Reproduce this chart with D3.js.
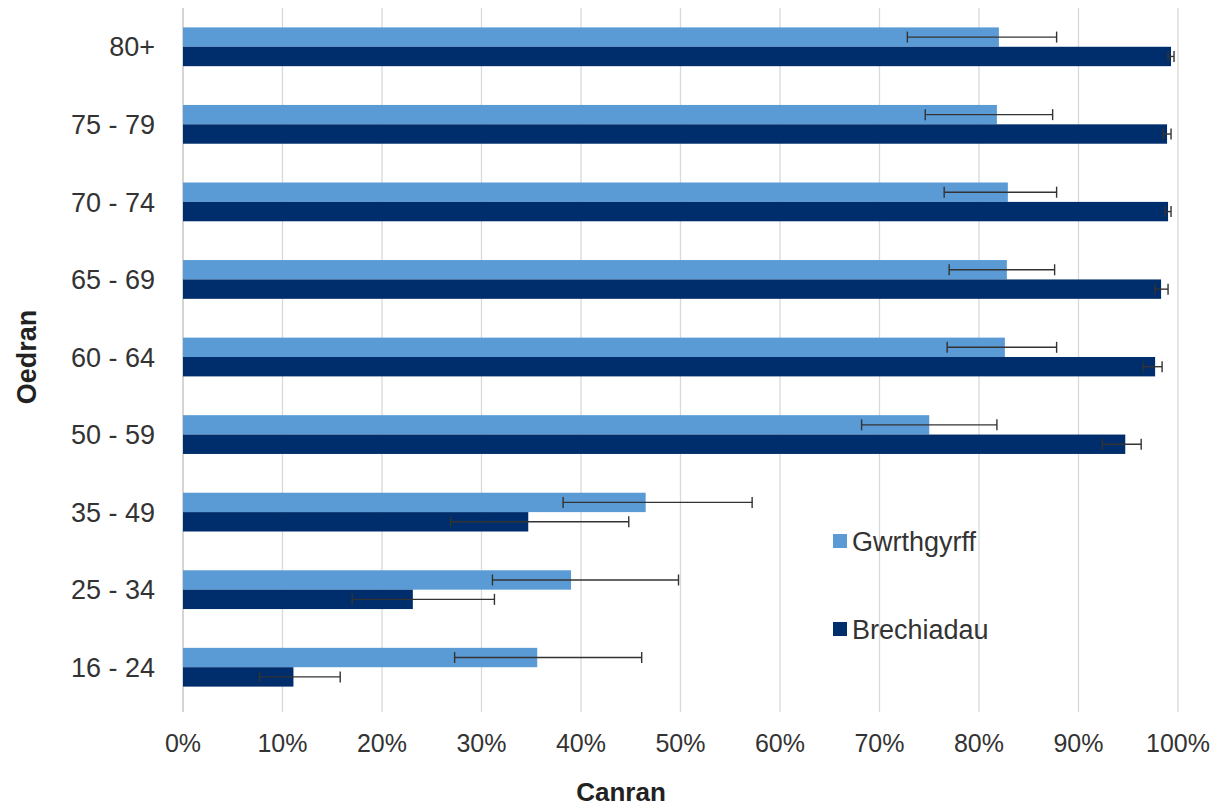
<!DOCTYPE html>
<html>
<head>
<meta charset="utf-8">
<script src="https://cdn.jsdelivr.net/npm/d3@7"></script>
<style>
  body { margin: 0; background: #fff; }
  text { font-family: "Liberation Sans", Arial, sans-serif; }
</style>
</head>
<body>
<div id="chart"></div>
<script>
// Categorías de edad (de arriba a abajo)
const oedran = ["80+", "75 - 79", "70 - 74", "65 - 69", "60 - 64", "50 - 59", "35 - 49", "25 - 34", "16 - 24"];
const cyfresi = ["Gwrthgyrff", "Brechiadau"];
const lliwiau = ["#5b9bd5", "#002d6b"];

// Valores (%)
const gwrthgyrff = [82.0, 81.8, 82.9, 82.8, 82.6, 75.0, 46.5, 39.0, 35.6];
const gwrthgyrffIsaf = [72.8, 74.6, 76.5, 77.0, 76.8, 68.2, 38.2, 31.1, 27.3];
const gwrthgyrffUchaf = [87.8, 87.4, 87.8, 87.6, 87.8, 81.8, 57.2, 49.8, 46.1];
const brechiadau = [99.3, 98.9, 99.0, 98.3, 97.7, 94.7, 34.7, 23.1, 11.1];
const brechiadauIsaf = [99.0, 98.5, 98.7, 97.7, 96.5, 92.4, 26.9, 17.0, 7.7];
const brechiadauUchaf = [99.6, 99.3, 99.3, 99.0, 98.4, 96.3, 44.8, 31.3, 15.8];

const xTicks = [0, 10, 20, 30, 40, 50, 60, 70, 80, 90, 100];

const width = 1219, height = 807;
const margin = { top: 8, right: 41, bottom: 101, left: 183 };
const innerW = width - margin.left - margin.right;
const innerH = height - margin.top - margin.bottom;

const svg = d3.select("#chart").append("svg")
  .attr("width", width).attr("height", height);

const g = svg.append("g").attr("transform", `translate(${margin.left},${margin.top})`);

const x = d3.scaleLinear().domain([0, 100]).range([0, innerW]);
const y = d3.scaleBand().domain(oedran).range([0, innerH]).paddingInner(0.5).paddingOuter(0.25);
const ySub = d3.scaleBand().domain(cyfresi).range([0, y.bandwidth()]);

// Líneas de la grilla
g.append("g").selectAll("line").data(xTicks).join("line")
  .attr("x1", d => x(d)).attr("x2", d => x(d))
  .attr("y1", 0).attr("y2", innerH + 6)
  .attr("stroke", d => d === 0 ? "#bfbfbf" : "#d9d9d9").attr("stroke-width", 1.3);

// Tabla para las barras
const datos = oedran.map((o, i) => ({
  oedran: o,
  gwerthoedd: [
    { cyfres: cyfresi[0], v: gwrthgyrff[i], isaf: gwrthgyrffIsaf[i], uchaf: gwrthgyrffUchaf[i] },
    { cyfres: cyfresi[1], v: brechiadau[i], isaf: brechiadauIsaf[i], uchaf: brechiadauUchaf[i] }
  ]
}));

const grwpiau = g.append("g").selectAll("g").data(datos).join("g")
  .attr("transform", d => `translate(0,${y(d.oedran)})`);

grwpiau.selectAll("rect").data(d => d.gwerthoedd).join("rect")
  .attr("x", 0)
  .attr("y", d => ySub(d.cyfres))
  .attr("width", d => x(d.v))
  .attr("height", ySub.bandwidth())
  .attr("fill", (d, i) => lliwiau[i]);

// Barras de error
const errores = grwpiau.selectAll("g.err").data(d => d.gwerthoedd).join("g").attr("class", "err")
  .attr("transform", d => `translate(0,${ySub(d.cyfres) + ySub.bandwidth() / 2})`)
  .attr("stroke", "#333").attr("stroke-width", 1.4);
errores.append("line").attr("x1", d => x(d.isaf)).attr("x2", d => x(d.uchaf)).attr("y1", 0).attr("y2", 0);
errores.append("line").attr("x1", d => x(d.isaf)).attr("x2", d => x(d.isaf)).attr("y1", -5.5).attr("y2", 5.5);
errores.append("line").attr("x1", d => x(d.uchaf)).attr("x2", d => x(d.uchaf)).attr("y1", -5.5).attr("y2", 5.5);

// Etiquetas eje y
g.append("g").selectAll("text").data(oedran).join("text")
  .attr("x", -28)
  .attr("y", d => y(d) + y.bandwidth() / 2)
  .attr("dy", "0.36em")
  .attr("text-anchor", "end")
  .attr("font-size", 27)
  .attr("fill", "#333")
  .text(d => d);

// Etiquetas eje x
g.append("g").selectAll("text").data(xTicks).join("text")
  .attr("x", d => x(d))
  .attr("y", innerH + 46)
  .attr("text-anchor", "middle")
  .attr("font-size", 25)
  .attr("fill", "#333")
  .text(d => d + "%");

// Títulos de los ejes
svg.append("text")
  .attr("x", 621)
  .attr("y", 801)
  .attr("text-anchor", "middle")
  .attr("font-size", 26).attr("font-weight", "bold").attr("fill", "#222")
  .text("Canran");

svg.append("text")
  .attr("transform", `translate(36,${margin.top + innerH / 2}) rotate(-90)`)
  .attr("text-anchor", "middle")
  .attr("font-size", 27).attr("font-weight", "bold").attr("fill", "#222")
  .text("Oedran");

// Leyenda
const leyenda = svg.append("g").selectAll("g").data(cyfresi).join("g")
  .attr("transform", (d, i) => `translate(833,${541 + i * 88})`);
leyenda.append("rect").attr("x", 0).attr("y", -7).attr("width", 14).attr("height", 14)
  .attr("fill", (d, i) => lliwiau[i]);
leyenda.append("text").attr("x", 19).attr("dy", "0.36em")
  .attr("font-size", 27).attr("fill", "#333").text(d => d);
</script>
</body>
</html>
